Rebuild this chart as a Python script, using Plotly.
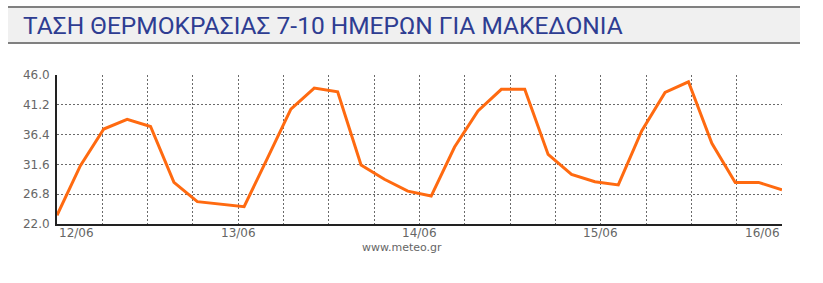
import plotly.graph_objects as go

# ---- data ----
title_text = "ΤΑΣΗ ΘΕΡΜΟΚΡΑΣΙΑΣ 7-10 ΗΜΕΡΩΝ ΓΙΑ ΜΑΚΕΔΟΝΙΑ"
temps = [23.4, 31.4, 37.3, 38.85, 37.7, 28.7, 25.6, 25.2, 24.8, 32.6,
         40.5, 43.9, 43.3, 31.5, 29.2, 27.3, 26.5, 34.4, 40.2, 43.7,
         43.7, 33.2, 30.0, 28.8, 28.3, 37.0, 43.2, 44.9, 35.0, 28.7,
         28.7, 27.5]
date_labels = ["12/06", "13/06", "14/06", "15/06", "16/06"]
y_ticks = [22.0, 26.8, 31.6, 36.4, 41.2, 46.0]
y_labels = ["22.0", "26.8", "31.6", "36.4", "41.2", "46.0"]
watermark = "www.meteo.gr"

# ---- layout geometry ----
W, H = 823, 283
L, R, T, B = 57, 41, 75, 59
PW, PH = W - L - R, H - T - B

def px(x):
    return (x - L) / PW

def py(y):
    return 1 - (y - T) / PH

n = len(temps)
xs = list(range(n))
xmax = n - 1
grid_x = [k * xmax / 16 for k in range(17)]
date_x = [k * xmax / (len(date_labels) - 1) for k in range(len(date_labels))]

fig = go.Figure()
fig.add_trace(go.Scatter(x=xs, y=temps, mode="lines",
                         line=dict(color="#FF6A10", width=3),
                         hoverinfo="skip", showlegend=False))

axis_common = dict(showgrid=True, gridcolor="#6a6a6a", griddash="2px,2px", gridwidth=1,
                   showline=True, linecolor="#222222", linewidth=2,
                   zeroline=False, ticks="", fixedrange=True)

fig.update_layout(
    width=W, height=H,
    margin=dict(l=L, r=R, t=T, b=B, pad=0),
    paper_bgcolor="white", plot_bgcolor="white",
    xaxis=dict(range=[0, xmax], tickvals=grid_x, showticklabels=False, **axis_common),
    yaxis=dict(range=[22, 46], tickvals=y_ticks, ticktext=y_labels,
               tickfont=dict(family="DejaVu Sans", size=12, color="#666666"),
               ticklabelstandoff=3, **axis_common),
)

# title box
fig.add_shape(type="rect", xref="paper", yref="paper",
              x0=px(8), x1=px(800), y0=py(43), y1=py(7),
              fillcolor="#f0f0f0", line=dict(width=0), layer="below")
for yy in (7, 43):
    fig.add_shape(type="line", xref="paper", yref="paper",
                  x0=px(8), x1=px(800), y0=py(yy), y1=py(yy),
                  line=dict(color="#808080", width=2))
fig.add_annotation(text=title_text, xref="paper", yref="paper",
                   x=px(21), y=py(25), xanchor="left", yanchor="middle",
                   showarrow=False,
                   font=dict(family="Liberation Sans Narrow, Roboto", size=24.5, color="#2e3d92"))

# date labels
for i, (dx, lab) in enumerate(zip(date_x, date_labels)):
    anchor = "left" if i == 0 else ("right" if i == len(date_labels) - 1 else "center")
    fig.add_annotation(text=lab, x=dx, xref="x", y=py(233), yref="paper",
                       xanchor=anchor, yanchor="middle", showarrow=False,
                       font=dict(family="DejaVu Sans", size=12, color="#666666"))

fig.add_annotation(text=watermark, xref="paper", yref="paper",
                   x=px(402), y=py(247), xanchor="center", yanchor="middle",
                   showarrow=False,
                   font=dict(family="DejaVu Sans", size=11, color="#666666"))

fig.write_html("out.html", config={"displayModeBar": False})
